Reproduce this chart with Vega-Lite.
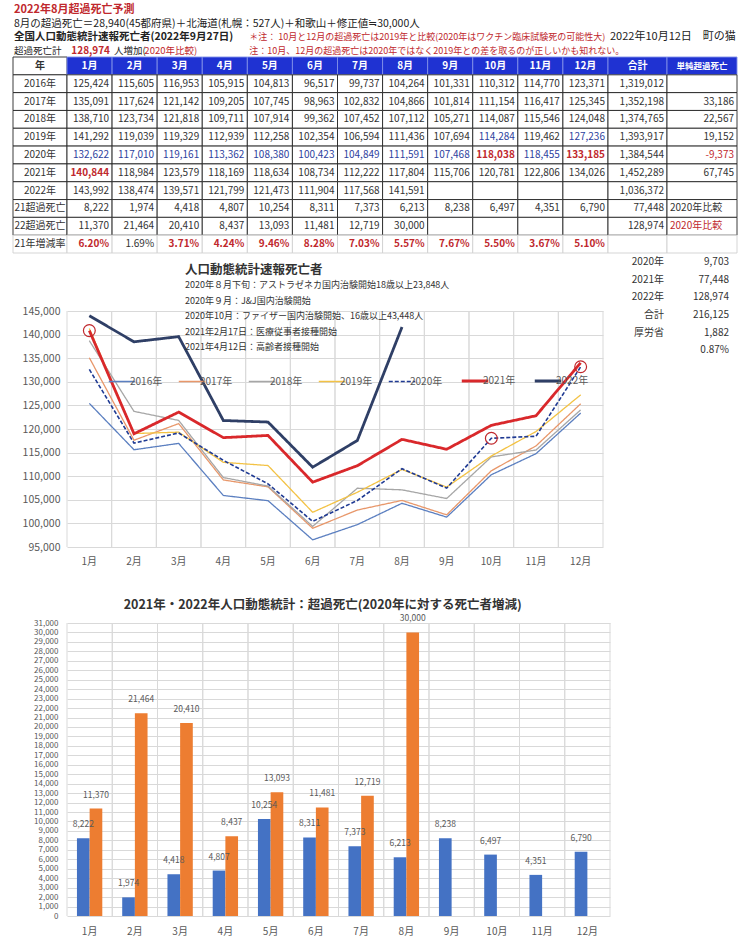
{
"$schema":"https://vega.github.io/schema/vega-lite/v6.json",
"width":740,"height":948,"autosize":"none","padding":0,"background":"#ffffff",
"config":{"view":{"stroke":null},"font":"Noto Sans CJK JP"},
"datasets":{
"table":[
{"年":"年","1月":"1月","2月":"2月","3月":"3月","4月":"4月","5月":"5月","6月":"6月","7月":"7月","8月":"8月","9月":"9月","10月":"10月","11月":"11月","12月":"12月","合計":"合計","単純超過死亡":"単純超過死亡"},
{"年":"2016年","1月":"125,424","2月":"115,605","3月":"116,953","4月":"105,915","5月":"104,813","6月":"96,517","7月":"99,737","8月":"104,264","9月":"101,331","10月":"110,312","11月":"114,770","12月":"123,371","合計":"1,319,012","単純超過死亡":""},
{"年":"2017年","1月":"135,091","2月":"117,624","3月":"121,142","4月":"109,205","5月":"107,745","6月":"98,963","7月":"102,832","8月":"104,866","9月":"101,814","10月":"111,154","11月":"116,417","12月":"125,345","合計":"1,352,198","単純超過死亡":"33,186"},
{"年":"2018年","1月":"138,710","2月":"123,734","3月":"121,818","4月":"109,711","5月":"107,914","6月":"99,362","7月":"107,452","8月":"107,112","9月":"105,271","10月":"114,087","11月":"115,546","12月":"124,048","合計":"1,374,765","単純超過死亡":"22,567"},
{"年":"2019年","1月":"141,292","2月":"119,039","3月":"119,329","4月":"112,939","5月":"112,258","6月":"102,354","7月":"106,594","8月":"111,436","9月":"107,694","10月":"114,284","11月":"119,462","12月":"127,236","合計":"1,393,917","単純超過死亡":"19,152"},
{"年":"2020年","1月":"132,622","2月":"117,010","3月":"119,161","4月":"113,362","5月":"108,380","6月":"100,423","7月":"104,849","8月":"111,591","9月":"107,468","10月":"118,038","11月":"118,455","12月":"133,185","合計":"1,384,544","単純超過死亡":"-9,373"},
{"年":"2021年","1月":"140,844","2月":"118,984","3月":"123,579","4月":"118,169","5月":"118,634","6月":"108,734","7月":"112,222","8月":"117,804","9月":"115,706","10月":"120,781","11月":"122,806","12月":"134,026","合計":"1,452,289","単純超過死亡":"67,745"},
{"年":"2022年","1月":"143,992","2月":"138,474","3月":"139,571","4月":"121,799","5月":"121,473","6月":"111,904","7月":"117,568","8月":"141,591","9月":"","10月":"","11月":"","12月":"","合計":"1,036,372","単純超過死亡":""},
{"年":"21超過死亡","1月":"8,222","2月":"1,974","3月":"4,418","4月":"4,807","5月":"10,254","6月":"8,311","7月":"7,373","8月":"6,213","9月":"8,238","10月":"6,497","11月":"4,351","12月":"6,790","合計":"77,448","単純超過死亡":"2020年比較"},
{"年":"22超過死亡","1月":"11,370","2月":"21,464","3月":"20,410","4月":"8,437","5月":"13,093","6月":"11,481","7月":"12,719","8月":"30,000","9月":"","10月":"","11月":"","12月":"","合計":"128,974","単純超過死亡":"2020年比較"},
{"年":"21年増減率","1月":"6.20%","2月":"1.69%","3月":"3.71%","4月":"4.24%","5月":"9.46%","6月":"8.28%","7月":"7.03%","8月":"5.57%","9月":"7.67%","10月":"5.50%","11月":"3.67%","12月":"5.10%","合計":"","単純超過死亡":""}
],
"series":[
{"年":"2016年","1月":125424,"2月":115605,"3月":116953,"4月":105915,"5月":104813,"6月":96517,"7月":99737,"8月":104264,"9月":101331,"10月":110312,"11月":114770,"12月":123371},
{"年":"2017年","1月":135091,"2月":117624,"3月":121142,"4月":109205,"5月":107745,"6月":98963,"7月":102832,"8月":104866,"9月":101814,"10月":111154,"11月":116417,"12月":125345},
{"年":"2018年","1月":138710,"2月":123734,"3月":121818,"4月":109711,"5月":107914,"6月":99362,"7月":107452,"8月":107112,"9月":105271,"10月":114087,"11月":115546,"12月":124048},
{"年":"2019年","1月":141292,"2月":119039,"3月":119329,"4月":112939,"5月":112258,"6月":102354,"7月":106594,"8月":111436,"9月":107694,"10月":114284,"11月":119462,"12月":127236},
{"年":"2020年","1月":132622,"2月":117010,"3月":119161,"4月":113362,"5月":108380,"6月":100423,"7月":104849,"8月":111591,"9月":107468,"10月":118038,"11月":118455,"12月":133185},
{"年":"2021年","1月":140844,"2月":118984,"3月":123579,"4月":118169,"5月":118634,"6月":108734,"7月":112222,"8月":117804,"9月":115706,"10月":120781,"11月":122806,"12月":134026},
{"年":"2022年","1月":143992,"2月":138474,"3月":139571,"4月":121799,"5月":121473,"6月":111904,"7月":117568,"8月":141591}
],
"bars":[
{"系列":"21超過死亡","1月":8222,"2月":1974,"3月":4418,"4月":4807,"5月":10254,"6月":8311,"7月":7373,"8月":6213,"9月":8238,"10月":6497,"11月":4351,"12月":6790},
{"系列":"22超過死亡","1月":11370,"2月":21464,"3月":20410,"4月":8437,"5月":13093,"6月":11481,"7月":12719,"8月":30000}
],
"notes":[
{"行":1,"列":"年","text":"2022年8月超過死亡予測"},
{"行":2,"列":"年","text":"8月の超過死亡＝28,940(45都府県)＋北海道(札幌：527人)＋和歌山＋修正値≒30,000人"},
{"行":3,"列":"年","text":"全国人口動態統計速報死亡者(2022年9月27日)"},
{"行":3,"列":"5月","text":"　＊注： 10月と12月の超過死亡は2019年と比較(2020年はワクチン臨床試験死の可能性大)"},
{"行":3,"列":"合計","text":"2022年10月12日　町の猫"},
{"行":4,"列":"年","text":"超過死亡計"},
{"行":4,"列":"1月","text":"128,974"},
{"行":4,"列":"2月","text":"人増加("},
{"行":4,"列":"3月","text":"2020年比較)"},
{"行":4,"列":"5月","text":"注：10月、12月の超過死亡は2020年ではなく2019年との差を取るのが正しいかも知れない。"}
],
"chart_notes":[
{"順":0,"text":"人口動態統計速報死亡者"},
{"順":1,"text":"2020年８月下旬：アストラゼネカ国内治験開始18歳以上23,848人"},
{"順":2,"text":"2020年９月：J&J国内治験開始"},
{"順":3,"text":"2020年10月：ファイザー国内治験開始、16歳以上43,448人"},
{"順":4,"text":"2021年2月17日：医療従事者接種開始"},
{"順":5,"text":"2021年4月12日：高齢者接種開始"}
],
"side":[
{"順":1,"項目":"2020年","値":"9,703"},
{"順":2,"項目":"2021年","値":"77,448"},
{"順":3,"項目":"2022年","値":"128,974"},
{"順":4,"項目":"合計","値":"216,125"},
{"順":5,"項目":"厚労省","値":"1,882"},
{"順":6,"項目":"","値":"0.87%"}
],
"bar_title":[{"title":"2021年・2022年人口動態統計：超過死亡(2020年に対する死亡者増減)"}]
},
"layer":[
{"data":{"name":"table"},"transform":[{"fold":["年"],"as":["列","値"]}],
 "mark":{"type":"rect","strokeWidth":0.9,"stroke":{"expr":"datum['年']==='21年増減率' ? '#d0d0d0' : '#262626'"}},
 "encoding":{"x":{"field":"列","type":"nominal","scale":{"type":"band","domain":["年"],"range":[13,67],"paddingInner":0,"paddingOuter":0},"axis":null},
  "y":{"field":"年","type":"nominal","scale":{"type":"band","domain":["年","2016年","2017年","2018年","2019年","2020年","2021年","2022年","21超過死亡","22超過死亡","21年増減率"],"range":[57,253],"paddingInner":0,"paddingOuter":0},"axis":null},
  "fill":{"value":"#ffffff"}}},
{"data":{"name":"table"},"transform":[{"fold":["年"],"as":["列","値"]}],
 "mark":{"type":"text","align":"center","baseline":"middle","font":"Noto Sans CJK JP","fontSize":10,"color":"#333333","fontWeight":{"expr":"datum['年']==='年' ? 'bold' : 'normal'"}},
 "encoding":{"x":{"field":"列","type":"nominal","scale":{"type":"band","domain":["年"],"range":[13,67],"paddingInner":0,"paddingOuter":0},"axis":null},
  "y":{"field":"年","type":"nominal","scale":{"type":"band","domain":["年","2016年","2017年","2018年","2019年","2020年","2021年","2022年","21超過死亡","22超過死亡","21年増減率"],"range":[57,253],"paddingInner":0,"paddingOuter":0},"axis":null},
  "text":{"field":"値"}}},
{"data":{"name":"table"},"transform":[{"fold":["1月","2月","3月","4月","5月","6月","7月","8月","9月","10月","11月","12月"],"as":["列","値"]}],
 "mark":{"type":"rect","strokeWidth":0.9,"stroke":{"expr":"datum['年']==='年' ? '#8090e8' : (datum['年']==='21年増減率' ? '#d0d0d0' : '#262626')"}},
 "encoding":{"x":{"field":"列","type":"nominal","scale":{"type":"band","domain":["1月","2月","3月","4月","5月","6月","7月","8月","9月","10月","11月","12月"],"range":[67,608],"paddingInner":0,"paddingOuter":0},"axis":null},
  "y":{"field":"年","type":"nominal","scale":{"type":"band","domain":["年","2016年","2017年","2018年","2019年","2020年","2021年","2022年","21超過死亡","22超過死亡","21年増減率"],"range":[57,253],"paddingInner":0,"paddingOuter":0},"axis":null},
  "fill":{"condition":{"test":"datum['年']==='年'","value":"#1F32D2"},"value":"#ffffff"}}},
{"data":{"name":"table"},"transform":[{"fold":["1月","2月","3月","4月","5月","6月","7月","8月","9月","10月","11月","12月"],"as":["列","値"]}],
 "mark":{"type":"text","baseline":"middle","font":"Noto Sans CJK JP","fontSize":10,
   "align":{"expr":"datum['年']==='年' ? 'center' : 'right'"},
   "dx":{"expr":"datum['年']==='年' ? 0 : 19.5"},
   "fontWeight":{"expr":"(datum['年']==='年') || (datum['年']==='2021年' && datum['列']==='1月') || (datum['年']==='2020年' && (datum['列']==='10月' || datum['列']==='12月')) || (datum['年']==='21年増減率' && datum['列']!=='2月') ? 'bold' : 'normal'"}},
 "encoding":{"x":{"field":"列","type":"nominal","scale":{"type":"band","domain":["1月","2月","3月","4月","5月","6月","7月","8月","9月","10月","11月","12月"],"range":[67,608],"paddingInner":0,"paddingOuter":0},"axis":null},
  "y":{"field":"年","type":"nominal","scale":{"type":"band","domain":["年","2016年","2017年","2018年","2019年","2020年","2021年","2022年","21超過死亡","22超過死亡","21年増減率"],"range":[57,253],"paddingInner":0,"paddingOuter":0},"axis":null},
  "text":{"field":"値"},
  "color":{"condition":[
    {"test":"datum['年']==='年'","value":"#ffffff"},
    {"test":"(datum['年']==='2021年' && datum['列']==='1月') || (datum['年']==='2020年' && (datum['列']==='10月' || datum['列']==='12月')) || (datum['年']==='21年増減率' && datum['列']!=='2月')","value":"#C0282D"},
    {"test":"(datum['年']==='2020年') || (datum['年']==='2019年' && (datum['列']==='10月' || datum['列']==='12月'))","value":"#2E3F9E"}],
   "value":"#333333"}}},
{"data":{"name":"table"},"transform":[{"fold":["合計"],"as":["列","値"]}],
 "mark":{"type":"rect","strokeWidth":0.9,"stroke":{"expr":"datum['年']==='年' ? '#8090e8' : (datum['年']==='21年増減率' ? '#d0d0d0' : '#262626')"}},
 "encoding":{"x":{"field":"列","type":"nominal","scale":{"type":"band","domain":["合計"],"range":[608,667],"paddingInner":0,"paddingOuter":0},"axis":null},
  "y":{"field":"年","type":"nominal","scale":{"type":"band","domain":["年","2016年","2017年","2018年","2019年","2020年","2021年","2022年","21超過死亡","22超過死亡","21年増減率"],"range":[57,253],"paddingInner":0,"paddingOuter":0},"axis":null},
  "fill":{"condition":{"test":"datum['年']==='年'","value":"#1F32D2"},"value":"#ffffff"}}},
{"data":{"name":"table"},"transform":[{"fold":["合計"],"as":["列","値"]}],
 "mark":{"type":"text","baseline":"middle","font":"Noto Sans CJK JP","fontSize":10,
   "align":{"expr":"datum['年']==='年' ? 'center' : 'right'"},
   "dx":{"expr":"datum['年']==='年' ? 0 : 26.5"},
   "fontWeight":{"expr":"datum['年']==='年' ? 'bold' : 'normal'"}},
 "encoding":{"x":{"field":"列","type":"nominal","scale":{"type":"band","domain":["合計"],"range":[608,667],"paddingInner":0,"paddingOuter":0},"axis":null},
  "y":{"field":"年","type":"nominal","scale":{"type":"band","domain":["年","2016年","2017年","2018年","2019年","2020年","2021年","2022年","21超過死亡","22超過死亡","21年増減率"],"range":[57,253],"paddingInner":0,"paddingOuter":0},"axis":null},
  "text":{"field":"値"},
  "color":{"condition":{"test":"datum['年']==='年'","value":"#ffffff"},"value":"#333333"}}},
{"data":{"name":"table"},"transform":[{"fold":["単純超過死亡"],"as":["列","値"]}],
 "mark":{"type":"rect","strokeWidth":0.9,"stroke":{"expr":"datum['年']==='年' ? '#8090e8' : (datum['年']==='21年増減率' ? '#d0d0d0' : '#262626')"}},
 "encoding":{"x":{"field":"列","type":"nominal","scale":{"type":"band","domain":["単純超過死亡"],"range":[667,737],"paddingInner":0,"paddingOuter":0},"axis":null},
  "y":{"field":"年","type":"nominal","scale":{"type":"band","domain":["年","2016年","2017年","2018年","2019年","2020年","2021年","2022年","21超過死亡","22超過死亡","21年増減率"],"range":[57,253],"paddingInner":0,"paddingOuter":0},"axis":null},
  "fill":{"condition":{"test":"datum['年']==='年'","value":"#1F32D2"},"value":"#ffffff"}}},
{"data":{"name":"table"},"transform":[{"fold":["単純超過死亡"],"as":["列","値"]}],
 "mark":{"type":"text","baseline":"middle","font":"Noto Sans CJK JP",
   "fontSize":{"expr":"datum['年']==='年' ? 8.5 : 10"},
   "align":{"expr":"datum['年']==='年' ? 'center' : ((datum['年']==='21超過死亡' || datum['年']==='22超過死亡') ? 'left' : 'right')"},
   "dx":{"expr":"datum['年']==='年' ? 0 : ((datum['年']==='21超過死亡' || datum['年']==='22超過死亡') ? -32 : 32)"},
   "fontWeight":{"expr":"datum['年']==='年' ? 'bold' : 'normal'"}},
 "encoding":{"x":{"field":"列","type":"nominal","scale":{"type":"band","domain":["単純超過死亡"],"range":[667,737],"paddingInner":0,"paddingOuter":0},"axis":null},
  "y":{"field":"年","type":"nominal","scale":{"type":"band","domain":["年","2016年","2017年","2018年","2019年","2020年","2021年","2022年","21超過死亡","22超過死亡","21年増減率"],"range":[57,253],"paddingInner":0,"paddingOuter":0},"axis":null},
  "text":{"field":"値"},
  "color":{"condition":[
    {"test":"datum['年']==='年'","value":"#ffffff"},
    {"test":"datum['年']==='2020年' || datum['年']==='22超過死亡'","value":"#C0282D"}],
   "value":"#333333"}}},
{"data":{"name":"notes"},"transform":[{"filter":"datum['列']==='年'"}],
 "mark":{"type":"text","align":"left","baseline":"middle","dx":1,"font":"Noto Sans CJK JP",
   "fontSize":{"expr":"datum['行']===1 ? 11 : (datum['行']===2 ? 10.5 : (datum['行']===3 ? 10.5 : 9.5))"},
   "fontWeight":{"expr":"datum['行']===1 || datum['行']===3 ? 'bold' : 'normal'"}},
 "encoding":{"x":{"field":"列","type":"nominal","bandPosition":0,"scale":{"type":"band","domain":["年"],"range":[13,67],"paddingInner":0,"paddingOuter":0},"axis":null},
  "y":{"field":"行","type":"ordinal","scale":{"type":"point","domain":[1,2,3,4],"range":[10,51],"padding":0},"axis":null},
  "text":{"field":"text"},
  "color":{"condition":{"test":"datum['行']===1","value":"#C0282D"},"value":"#222222"}}},
{"data":{"name":"notes"},"transform":[{"filter":"datum['列']==='1月' || datum['列']==='2月' || datum['列']==='3月' || datum['列']==='5月'"}],
 "mark":{"type":"text","baseline":"middle","font":"Noto Sans CJK JP",
   "align":{"expr":"datum['列']==='1月' || datum['列']==='3月' ? 'right' : 'left'"},
   "dx":{"expr":"datum['列']==='1月' ? 43 : (datum['列']==='3月' ? 40 : 2)"},
   "fontSize":{"expr":"datum['列']==='5月' ? 9 : (datum['列']==='1月' ? 10 : 9.5)"},
   "fontWeight":{"expr":"datum['列']==='1月' ? 'bold' : 'normal'"}},
 "encoding":{"x":{"field":"列","type":"nominal","bandPosition":0,"scale":{"type":"band","domain":["1月","2月","3月","4月","5月","6月","7月","8月","9月","10月","11月","12月"],"range":[67,608],"paddingInner":0,"paddingOuter":0},"axis":null},
  "y":{"field":"行","type":"ordinal","scale":{"type":"point","domain":[1,2,3,4],"range":[10,51],"padding":0},"axis":null},
  "text":{"field":"text"},
  "color":{"condition":{"test":"datum['列']==='2月'","value":"#222222"},"value":"#C0282D"}}},
{"data":{"name":"notes"},"transform":[{"filter":"datum['列']==='合計'"}],
 "mark":{"type":"text","align":"left","baseline":"middle","dx":2,"font":"Noto Sans CJK JP","fontSize":11,"color":"#222222"},
 "encoding":{"x":{"field":"列","type":"nominal","bandPosition":0,"scale":{"type":"band","domain":["合計"],"range":[608,667],"paddingInner":0,"paddingOuter":0},"axis":null},
  "y":{"field":"行","type":"ordinal","scale":{"type":"point","domain":[1,2,3,4],"range":[10,51],"padding":0},"axis":null},
  "text":{"field":"text"}}},
{"data":{"name":"series"},"transform":[{"filter":"datum['年']==='2016年'"},{"fold":["1月","2月","3月","4月","5月","6月","7月","8月","9月","10月","11月","12月"],"as":["月","死亡者"]}],
 "mark":{"type":"rule","color":"#d9d9d9","strokeWidth":1},
 "encoding":{
  "x":{"field":"月","type":"ordinal","bandPosition":0,"scale":{"type":"band","domain":["1月","2月","3月","4月","5月","6月","7月","8月","9月","10月","11月","12月"],"range":[67,603],"paddingInner":0,"paddingOuter":0},"axis":null},
  "y":{"datum":95000,"type":"quantitative","scale":{"domain":[95000,145000],"range":[547,311],"nice":false,"zero":false},"axis":null},
  "y2":{"datum":145000}
 }},
{"data":{"name":"series"},"transform":[{"filter":"datum['年']==='2016年'"},{"fold":["1月","2月","3月","4月","5月","6月","7月","8月","9月","10月","11月","12月"],"as":["月","死亡者"]}],
 "mark":{"type":"rule","color":"#d9d9d9","strokeWidth":1},
 "encoding":{
  "x":{"field":"月","type":"ordinal","bandPosition":1,"scale":{"type":"band","domain":["1月","2月","3月","4月","5月","6月","7月","8月","9月","10月","11月","12月"],"range":[67,603],"paddingInner":0,"paddingOuter":0},"axis":null},
  "y":{"datum":95000,"type":"quantitative","scale":{"domain":[95000,145000],"range":[547,311],"nice":false,"zero":false},"axis":null},
  "y2":{"datum":145000}
 }},
{"data":{"name":"series"},"transform":[{"fold":["1月","2月","3月","4月","5月","6月","7月","8月","9月","10月","11月","12月"],"as":["月","死亡者"]}],
 "mark":{"type":"line","strokeWidth":{"expr":"datum['年']==='2021年' || datum['年']==='2022年' ? 2.8 : (datum['年']==='2020年' ? 1.6 : 1.3)"}},
 "encoding":{
  "x":{"field":"月","type":"ordinal","scale":{"type":"band","domain":["1月","2月","3月","4月","5月","6月","7月","8月","9月","10月","11月","12月"],"range":[67,603],"paddingInner":0,"paddingOuter":0},
   "axis":{"orient":"bottom","offset":-401,"labelFontSize":10,"labelColor":"#595959","labelFont":"Noto Sans CJK JP","labelAngle":0,"labelPadding":9,"domain":false,"ticks":false,"grid":false,"title":null}},
  "y":{"field":"死亡者","type":"quantitative","scale":{"domain":[95000,145000],"range":[547,311],"nice":false,"zero":false},
   "axis":{"orient":"left","offset":-66,"values":[95000,100000,105000,110000,115000,120000,125000,130000,135000,140000,145000],"format":",d","labelFontSize":10.5,"labelColor":"#595959","labelFont":"Noto Sans CJK JP","labelPadding":6,"domain":false,"ticks":false,"grid":true,"gridColor":"#d9d9d9","title":null}},
  "color":{"field":"年","type":"nominal","scale":{"domain":["2016年","2017年","2018年","2019年","2020年","2021年","2022年"],"range":["#5B7FC0","#E8976A","#A6A6A6","#F3C244","#1F3A93","#D9282B","#2F3F66"]},
   "legend":{"orient":"none","legendX":117,"legendY":376,"direction":"horizontal","columns":7,"title":null,"symbolType":"stroke","symbolSize":700,"symbolStrokeWidth":1.6,"labelFontSize":10,"labelColor":"#595959","labelFont":"Noto Sans CJK JP","columnPadding":12,"labelOffset":3,
     "encode":{"symbols":{"update":{"strokeWidth":{"signal":"datum.value==='2021年' || datum.value==='2022年' ? 3 : 1.5"}}}}}},
  "strokeDash":{"field":"年","type":"nominal","scale":{"domain":["2016年","2017年","2018年","2019年","2020年","2021年","2022年"],"range":[[1,0],[1,0],[1,0],[1,0],[4,2],[1,0],[1,0]]},
   "legend":{"orient":"none","legendX":117,"legendY":376,"direction":"horizontal","columns":7,"title":null,"symbolType":"stroke","symbolSize":700,"symbolStrokeWidth":1.6,"labelFontSize":10,"labelColor":"#595959","labelFont":"Noto Sans CJK JP","columnPadding":12,"labelOffset":3}}
 }},
{"data":{"name":"series"},"transform":[{"fold":["1月","2月","3月","4月","5月","6月","7月","8月","9月","10月","11月","12月"],"as":["月","死亡者"]},
  {"filter":"(datum['年']==='2021年' && datum['月']==='1月') || (datum['年']==='2020年' && (datum['月']==='10月' || datum['月']==='12月'))"}],
 "mark":{"type":"point","shape":"circle","filled":false,"color":"#C0282D","size":140,"strokeWidth":1.2,"opacity":1},
 "encoding":{
  "x":{"field":"月","type":"ordinal","scale":{"type":"band","domain":["1月","2月","3月","4月","5月","6月","7月","8月","9月","10月","11月","12月"],"range":[67,603],"paddingInner":0,"paddingOuter":0},"axis":null},
  "y":{"field":"死亡者","type":"quantitative","scale":{"domain":[95000,145000],"range":[547,311],"nice":false,"zero":false},"axis":null}
 }},
{"data":{"name":"chart_notes"},
 "mark":{"type":"text","align":"left","baseline":"middle","font":"Noto Sans CJK JP","color":"#333333",
   "fontSize":{"expr":"datum['順']===0 ? 12.5 : 9"},
   "fontWeight":{"expr":"datum['順']===0 ? 'bold' : 'normal'"}},
 "encoding":{
  "x":{"datum":"3月","type":"ordinal","bandPosition":0.64,"scale":{"type":"band","domain":["1月","2月","3月","4月","5月","6月","7月","8月","9月","10月","11月","12月"],"range":[67,603],"paddingInner":0,"paddingOuter":0},"axis":null},
  "y":{"field":"順","type":"ordinal","scale":{"type":"point","domain":[0,1,2,3,4,5],"range":[270,347],"padding":0},"axis":null},
  "text":{"field":"text"}
 }},
{"data":{"name":"side"},"transform":[{"fold":["項目","値"],"as":["欄","内容"]}],
 "mark":{"type":"text","align":"right","baseline":"middle","dx":-4,"font":"Noto Sans CJK JP","fontSize":10,"color":"#333333"},
 "encoding":{
  "x":{"field":"欄","type":"nominal","bandPosition":1,"scale":{"type":"band","domain":["項目","値"],"range":[603,733],"paddingInner":0,"paddingOuter":0},"axis":null},
  "y":{"field":"順","type":"ordinal","scale":{"type":"band","domain":[1,2,3,4,5,6],"range":[253,359],"paddingInner":0,"paddingOuter":0},"axis":null},
  "text":{"field":"内容"}
 }},
{"data":{"name":"bars"},"transform":[{"filter":"datum['系列']==='21超過死亡'"},{"fold":["1月","2月","3月","4月","5月","6月","7月","8月","9月","10月","11月","12月"],"as":["月","超過死亡"]}],
 "mark":{"type":"rule","color":"#d9d9d9","strokeWidth":1},
 "encoding":{
  "x":{"field":"月","type":"ordinal","bandPosition":0,"scale":{"type":"band","domain":["1月","2月","3月","4月","5月","6月","7月","8月","9月","10月","11月","12月"],"range":[67,610],"paddingInner":0,"paddingOuter":0},"axis":null},
  "y":{"datum":0,"type":"quantitative","scale":{"domain":[0,31000],"range":[916,623],"nice":false,"zero":true},"axis":null},
  "y2":{"datum":31000}
 }},
{"data":{"name":"bars"},"transform":[{"filter":"datum['系列']==='21超過死亡'"},{"fold":["1月","2月","3月","4月","5月","6月","7月","8月","9月","10月","11月","12月"],"as":["月","超過死亡"]}],
 "mark":{"type":"rule","color":"#d9d9d9","strokeWidth":1},
 "encoding":{
  "x":{"field":"月","type":"ordinal","bandPosition":1,"scale":{"type":"band","domain":["1月","2月","3月","4月","5月","6月","7月","8月","9月","10月","11月","12月"],"range":[67,610],"paddingInner":0,"paddingOuter":0},"axis":null},
  "y":{"datum":0,"type":"quantitative","scale":{"domain":[0,31000],"range":[916,623],"nice":false,"zero":true},"axis":null},
  "y2":{"datum":31000}
 }},
{"data":{"name":"bars"},"transform":[{"fold":["1月","2月","3月","4月","5月","6月","7月","8月","9月","10月","11月","12月"],"as":["月","超過死亡"]}],
 "mark":{"type":"bar"},
 "encoding":{
  "x":{"field":"月","type":"ordinal","scale":{"type":"band","domain":["1月","2月","3月","4月","5月","6月","7月","8月","9月","10月","11月","12月"],"range":[67,610],"paddingInner":0.44,"paddingOuter":0.22},
   "axis":{"orient":"bottom","offset":-32,"labelFontSize":10,"labelColor":"#595959","labelFont":"Noto Sans CJK JP","labelAngle":0,"labelPadding":10,"domain":false,"ticks":false,"grid":false,"title":null}},
  "xOffset":{"field":"系列","type":"nominal","scale":{"domain":["21超過死亡","22超過死亡"]}},
  "y":{"field":"超過死亡","type":"quantitative","scale":{"domain":[0,31000],"range":[916,623],"nice":false,"zero":true},
   "axis":{"orient":"left","offset":-66,"values":[0,1000,2000,3000,4000,5000,6000,7000,8000,9000,10000,11000,12000,13000,14000,15000,16000,17000,18000,19000,20000,21000,22000,23000,24000,25000,26000,27000,28000,29000,30000,31000],"format":",d","labelOverlap":false,"labelFontSize":8,"labelColor":"#595959","labelFont":"Noto Sans CJK JP","labelPadding":8,"domain":false,"ticks":false,"grid":true,"gridColor":"#d9d9d9","title":null}},
  "color":{"field":"系列","type":"nominal","scale":{"domain":["21超過死亡","22超過死亡"],"range":["#4472C4","#ED7D31"]},"legend":null}
 }},
{"data":{"name":"bars"},"transform":[{"fold":["1月","2月","3月","4月","5月","6月","7月","8月","9月","10月","11月","12月"],"as":["月","超過死亡"]}],
 "mark":{"type":"text","baseline":"middle","dy":-14,"font":"Noto Sans CJK JP","fontSize":8.5,"color":"#595959"},
 "encoding":{
  "x":{"field":"月","type":"ordinal","scale":{"type":"band","domain":["1月","2月","3月","4月","5月","6月","7月","8月","9月","10月","11月","12月"],"range":[67,610],"paddingInner":0.44,"paddingOuter":0.22},"axis":null},
  "xOffset":{"field":"系列","type":"nominal","scale":{"domain":["21超過死亡","22超過死亡"]}},
  "y":{"field":"超過死亡","type":"quantitative","scale":{"domain":[0,31000],"range":[916,623],"nice":false,"zero":true},"axis":null},
  "text":{"field":"超過死亡","type":"quantitative","format":","}
 }},
{"data":{"name":"bar_title"},
 "mark":{"type":"text","align":"center","baseline":"middle","font":"Noto Sans CJK JP","fontSize":12.5,"fontWeight":"bold","color":"#333333"},
 "encoding":{
  "x":{"datum":"6月","type":"ordinal","bandPosition":0.65,"scale":{"type":"band","domain":["1月","2月","3月","4月","5月","6月","7月","8月","9月","10月","11月","12月"],"range":[67,610],"paddingInner":0,"paddingOuter":0},"axis":null},
  "y":{"datum":32900,"type":"quantitative","scale":{"domain":[0,31000],"range":[916,623],"nice":false,"zero":true},"axis":null},
  "text":{"field":"title"}
 }}
],
"resolve":{"scale":{"x":"independent","y":"independent","color":"independent","strokeDash":"independent","xOffset":"independent"},"axis":{"x":"independent","y":"independent"}}
}
